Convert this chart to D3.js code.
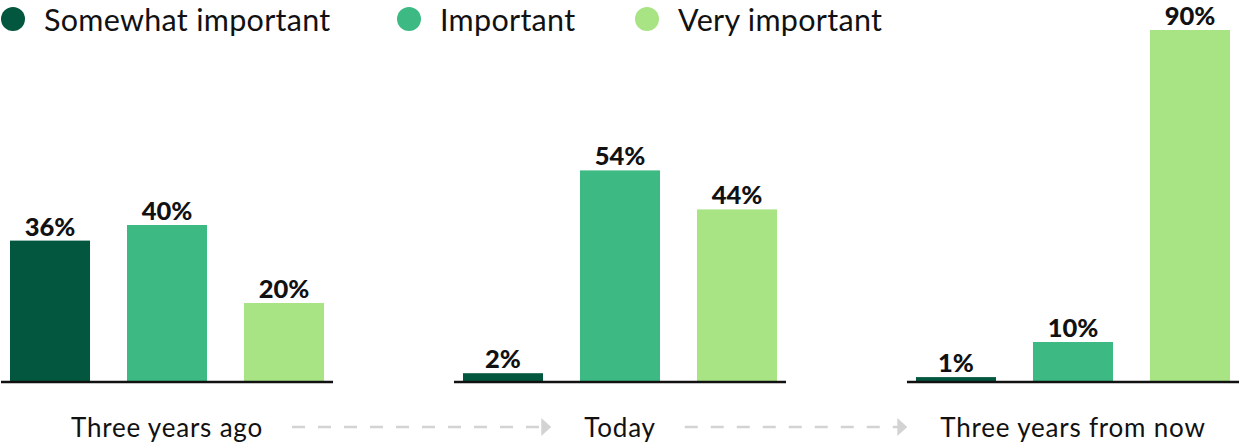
<!DOCTYPE html>
<html>
<head>
<meta charset="utf-8">
<script src="https://cdn.jsdelivr.net/npm/d3@7"></script>
<style>
  body { margin: 0; background: #fff; }
  svg { display: block; font-family: Lato, "Open Sans", sans-serif; }
</style>
</head>
<body>
<svg id="chart"></svg>
<script>
const periods = ["Three years ago", "Today", "Three years from now"];
const series = ["Somewhat important", "Important", "Very important"];
const somewhat = [36, 2, 1];
const important = [40, 54, 10];
const veryImportant = [20, 44, 90];
const colors = ["#04573f", "#3dba84", "#a8e384"];

const width = 1239, height = 442;
const svg = d3.select('#chart')
  .attr('width', width)
  .attr('height', height);

const rows = periods.map((p, i) => ({
  period: p,
  values: [somewhat[i], important[i], veryImportant[i]]
}));

const baseY = 381;
const y = d3.scaleLinear().domain([0, 100]).range([baseY, baseY - 390]);

const x0 = d3.scaleBand()
  .domain(periods)
  .range([1, 1239])
  .paddingInner(0.267)
  .paddingOuter(0);

const x1 = d3.scaleBand()
  .domain(series)
  .range([0, x0.bandwidth()])
  .paddingInner(0.316)
  .paddingOuter(0.077);

const color = d3.scaleOrdinal().domain(series).range(colors);

// legend
const legendX = [13, 409, 647];
const legend = svg.append('g');
series.forEach((s, i) => {
  legend.append('circle')
    .attr('cx', legendX[i])
    .attr('cy', 19)
    .attr('r', 12)
    .attr('fill', color(s));
  legend.append('text')
    .attr('x', legendX[i] + 31)
    .attr('y', 31)
    .attr('font-size', 30.5)
    .attr('letter-spacing', 0.3)
    .attr('fill', '#111')
    .text(s);
});

const groups = svg.selectAll('.group')
  .data(rows)
  .enter().append('g')
  .attr('class', 'group')
  .attr('transform', d => `translate(${x0(d.period)},0)`);

groups.selectAll('rect')
  .data(d => d.values.map((v, i) => ({ key: series[i], value: v })))
  .enter().append('rect')
  .attr('x', d => x1(d.key))
  .attr('y', d => y(d.value))
  .attr('width', x1.bandwidth())
  .attr('height', d => baseY - y(d.value))
  .attr('fill', d => color(d.key));

groups.selectAll('.val')
  .data(d => d.values.map((v, i) => ({ key: series[i], value: v })))
  .enter().append('text')
  .attr('class', 'val')
  .attr('x', d => x1(d.key) + x1.bandwidth() / 2)
  .attr('y', d => y(d.value) - 5)
  .attr('text-anchor', 'middle')
  .attr('font-size', 25.5)
  .attr('font-weight', 900)
  .attr('fill', '#111')
  .text(d => d.value + '%');

groups.append('line')
  .attr('x1', 0)
  .attr('x2', x0.bandwidth())
  .attr('y1', baseY + 1)
  .attr('y2', baseY + 1)
  .attr('stroke', '#111')
  .attr('stroke-width', 2.5);

const labels = groups.append('text')
  .attr('x', x0.bandwidth() / 2)
  .attr('y', 437)
  .attr('text-anchor', 'middle')
  .attr('font-size', 26)
  .attr('letter-spacing', 0.8)
  .attr('fill', '#111')
  .text(d => d.period);

// dashed arrows between the period labels
const boxes = labels.nodes().map((n, i) => {
  const w = n.getComputedTextLength();
  const c = x0(periods[i]) + x0.bandwidth() / 2;
  return [c - w / 2, c + w / 2];
});
for (let i = 0; i < boxes.length - 1; i++) {
  const start = boxes[i][1] + 29, tip = boxes[i + 1][0] - 33;
  svg.append('line')
    .attr('x1', start)
    .attr('x2', tip - 8)
    .attr('y1', 427)
    .attr('y2', 427)
    .attr('stroke', '#d3d3d3')
    .attr('stroke-width', 2.5)
    .attr('stroke-dasharray', '13,13');
  svg.append('path')
    .attr('d', `M${tip - 10},418 L${tip},427 L${tip - 10},436 Z`)
    .attr('fill', '#d3d3d3');
}
</script>
</body>
</html>
